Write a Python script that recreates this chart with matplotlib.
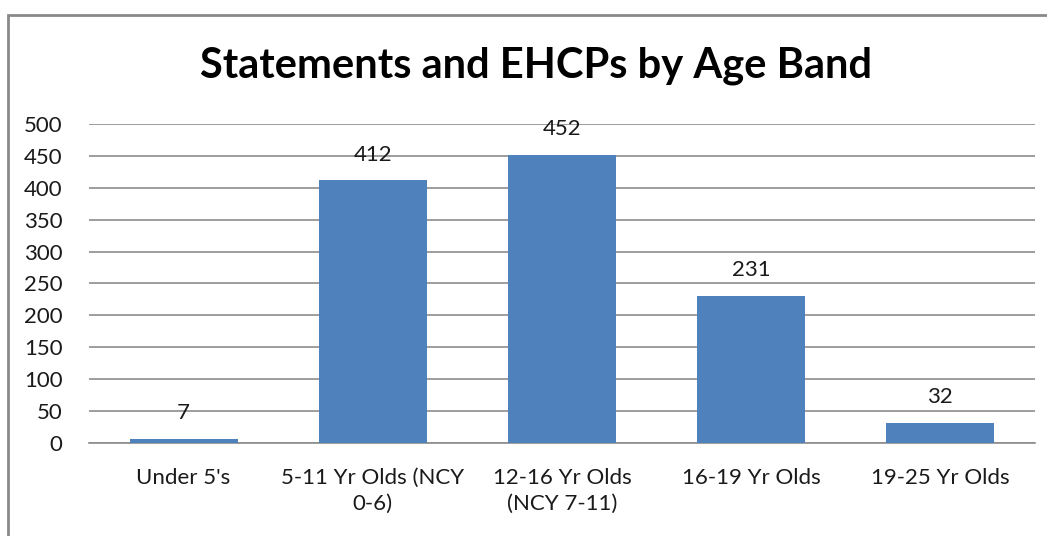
import matplotlib
matplotlib.use("Agg")
import matplotlib.pyplot as plt
from matplotlib.patches import Rectangle

# chart data
categories = ["Under 5's", "5-11 Yr Olds (NCY\n0-6)", "12-16 Yr Olds\n(NCY 7-11)",
              "16-19 Yr Olds", "19-25 Yr Olds"]
counts = [7, 412, 452, 231, 32]
yticks = [0, 50, 100, 150, 200, 250, 300, 350, 400, 450, 500]

plt.rcParams['font.family'] = ['Lato', 'DejaVu Sans']

fig = plt.figure(figsize=(10.47, 5.36), dpi=100)
ax = fig.add_axes([0.085, 0.1735, 0.9035, 0.5952])

# outer chart border (Excel style)
fig.patches.append(Rectangle((8 / 1047, -0.05), 1.1, 1 - 15 / 536 + 0.05,
                             transform=fig.transFigure, fill=False,
                             edgecolor='#8a8a8a', linewidth=2))

xs = range(len(categories))
bars = ax.bar(xs, counts, width=0.57, color='#4F81BD', zorder=3)
for b, v in zip(bars, counts):
    ax.annotate(str(v), (b.get_x() + b.get_width() / 2, v), xytext=(0, 11),
                textcoords='offset points', ha='center', va='bottom',
                fontsize=16, color='#1a1a1a')

ax.set_xlim(-0.5, len(categories) - 0.5)
ax.set_ylim(0, 500)
ax.set_yticks(yticks)
ax.set_xticks(list(xs))
ax.set_xticklabels(categories, fontsize=16, color='#1a1a1a', linespacing=1.35)
ax.tick_params(axis='y', length=0, pad=19, labelsize=16, labelcolor='#1a1a1a')
ax.tick_params(axis='x', length=0, pad=18)
for lab in ax.get_yticklabels():
    lab.set_horizontalalignment('right')
ax.grid(axis='y', color='#8c8c8c', linewidth=1.2, zorder=0)
for s in ['top', 'right', 'left']:
    ax.spines[s].set_visible(False)
ax.spines['bottom'].set_color('#8c8c8c')
ax.spines['bottom'].set_linewidth(1.2)

fig.text(0.512, 0.877, "Statements and EHCPs by Age Band", ha='center', va='center',
         fontsize=30, fontweight='bold', color='black')

fig.savefig("out.png", dpi=100)
